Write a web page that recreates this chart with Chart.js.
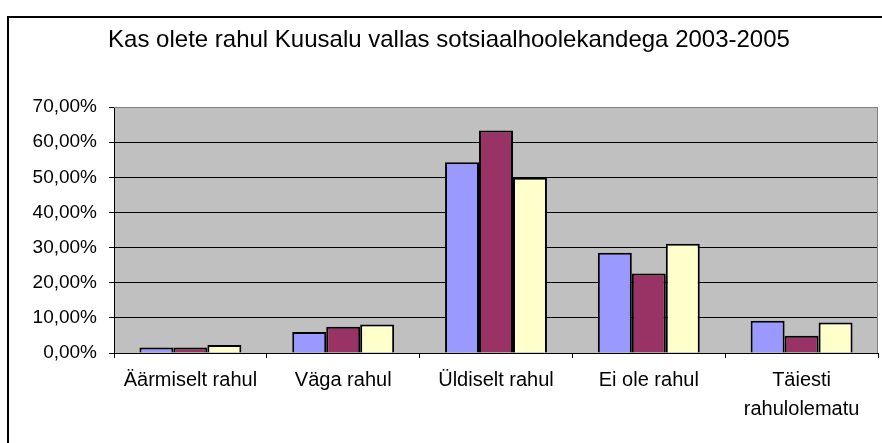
<!DOCTYPE html>
<html>
<head>
<meta charset="utf-8">
<script src="https://cdn.jsdelivr.net/npm/chart.js@4"></script>
<style>
  html, body { margin: 0; padding: 0; background: #fff; }
  #wrap { width: 882px; height: 443px; }
</style>
</head>
<body>
<div id="wrap"><canvas id="chart" width="882" height="443"></canvas></div>
<script>
// ===== ANDMED =====
const categories = ["Äärmiselt rahul", "Väga rahul", "Üldiselt rahul", "Ei ole rahul", ["Täiesti", "rahulolematu"]];
const years = ["2003", "2004", "2005"];
const values2003 = [1.6, 6.0, 54.3, 28.5, 9.2];
const values2004 = [1.6, 7.5, 63.3, 22.6, 4.9];
const values2005 = [2.3, 8.1, 49.9, 31.1, 8.7];
const seriesColors = ["#9999FF", "#993366", "#FFFFCC"];
const yTicks = [0, 10, 20, 30, 40, 50, 60, 70];

// ===== RAAM + JOONISE ALA =====
const excelFrame = {
  id: "excelFrame",
  beforeDraw(chart) {
    const ctx = chart.ctx;
    const a = chart.chartArea;
    ctx.save();
    // välimine raam
    ctx.strokeStyle = "#000";
    ctx.lineWidth = 2;
    ctx.strokeRect(8, 17, 900, 500);
    // hall taust
    ctx.fillStyle = "#C0C0C0";
    ctx.fillRect(a.left, a.top, a.right - a.left, a.bottom - a.top);
    ctx.restore();
  },
  afterDatasetsDraw(chart) {
    const ctx = chart.ctx;
    const a = chart.chartArea;
    ctx.save();
    ctx.strokeStyle = "#808080";
    ctx.lineWidth = 1;
    ctx.beginPath();
    ctx.moveTo(a.left, a.top + 0.5);
    ctx.lineTo(a.right - 0.5, a.top + 0.5);
    ctx.lineTo(a.right - 0.5, a.bottom);
    ctx.stroke();
    ctx.restore();
  }
};

const ctx = document.getElementById("chart").getContext("2d");
new Chart(ctx, {
  type: "bar",
  data: {
    labels: categories,
    datasets: [values2003, values2004, values2005].map((vals, i) => ({
      label: years[i],
      data: vals,
      backgroundColor: seriesColors[i],
      borderColor: "#000",
      borderWidth: 2,
      borderSkipped: "bottom",
      barPercentage: 1,
      categoryPercentage: 0.667
    }))
  },
  options: {
    responsive: false,
    animation: false,
    layout: { padding: { left: 20, right: 4, top: 0, bottom: 0 } },
    plugins: {
      legend: { display: false },
      tooltip: { enabled: false },
      title: {
        display: true,
        text: "Kas olete rahul Kuusalu vallas sotsiaalhoolekandega 2003-2005",
        color: "#000",
        font: { family: "Liberation Sans", size: 24, weight: "normal", lineHeight: 1.2 },
        padding: { top: 26, bottom: 52.2 }
      }
    },
    scales: {
      x: {
        offset: true,
        afterFit(scale) { scale.height = 90; },
        grid: {
          offset: true,
          drawOnChartArea: false,
          drawTicks: true,
          tickLength: 5,
          color: "#000"
        },
        border: { color: "#000", width: 1 },
        ticks: {
          color: "#000",
          padding: 8,
          maxRotation: 0,
          autoSkip: false,
          font: { family: "Liberation Sans", size: 20, lineHeight: 1.45 }
        }
      },
      y: {
        min: 0,
        max: 70,
        afterFit(scale) { scale.width = 94; },
        afterBuildTicks(scale) { scale.ticks = yTicks.map(v => ({ value: v })); },
        grid: {
          color: (c) => (c.tick && c.tick.value === 70 ? "#808080" : "#000"),
          tickColor: "#000",
          lineWidth: 1,
          drawTicks: true,
          tickLength: 5
        },
        border: { color: "#000", width: 1 },
        ticks: {
          color: "#000",
          padding: 12,
          font: { family: "Liberation Sans", size: 19 },
          callback: (v) => v.toFixed(2).replace(".", ",") + "%"
        }
      }
    }
  },
  plugins: [excelFrame]
});
</script>
</body>
</html>
